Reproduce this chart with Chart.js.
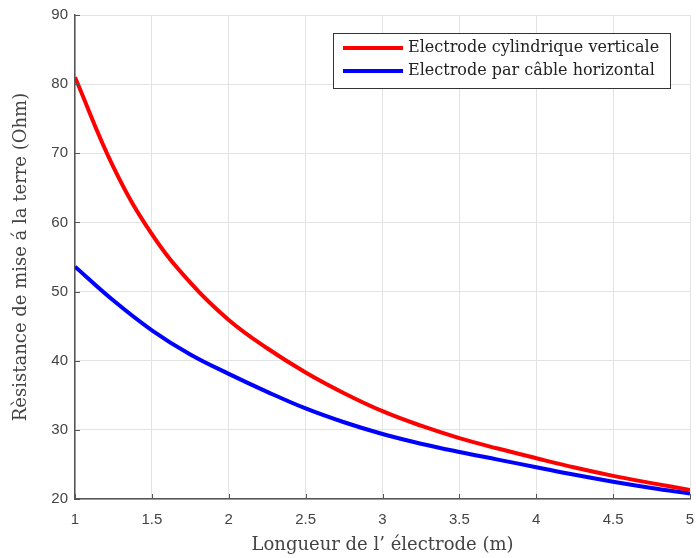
<!DOCTYPE html>
<html>
<head>
<meta charset="utf-8">
<script src="https://cdn.jsdelivr.net/npm/chart.js@4"></script>
<style>
  html, body { margin: 0; padding: 0; background: #fff; }
  #wrap { width: 696px; height: 558px; }
</style>
</head>
<body>
<div id="wrap"><canvas id="c" width="696" height="558"></canvas></div>
<script>
// longueur de l'électrode (m)
const longueurs = [1, 1.25, 1.5, 1.75, 2, 2.25, 2.5, 2.75, 3, 3.25, 3.5, 3.75, 4, 4.25, 4.5, 4.75, 5];
// résistance (Ohm)
const rVerticale = [81, 68.0, 58.3, 51.3, 45.9, 41.8, 38.3, 35.3, 32.7, 30.6, 28.8, 27.3, 25.9, 24.55, 23.35, 22.3, 21.3];
const rHorizontal = [53.6, 48.7, 44.4, 40.9, 38.1, 35.5, 33.1, 31.1, 29.4, 28.0, 26.8, 25.7, 24.6, 23.5, 22.5, 21.6, 20.8];
const xTicks = [1, 1.5, 2, 2.5, 3, 3.5, 4, 4.5, 5];
const yTicks = [20, 30, 40, 50, 60, 70, 80, 90];

const pts = arr => longueurs.map((x, i) => ({ x: x, y: arr[i] }));

const AXIS = '#555555';
const SERIF = "'DejaVu Serif', 'Liberation Serif', serif";
const SANS = "'Liberation Sans', Arial, sans-serif";

// ticks vers l'intérieur + légende dans le cadre (style matlab)
const matlabLook = {
  id: 'matlabLook',
  afterDatasetsDraw(chart) {
    const { ctx, chartArea: a, scales } = chart;
    ctx.save();
    ctx.strokeStyle = AXIS;
    ctx.lineWidth = 1;
    scales.x.ticks.forEach(t => {
      const px = Math.round(scales.x.getPixelForValue(t.value)) + 0.5;
      ctx.beginPath(); ctx.moveTo(px, a.bottom); ctx.lineTo(px, a.bottom - 5); ctx.stroke();
    });
    scales.y.ticks.forEach(t => {
      const py = Math.round(scales.y.getPixelForValue(t.value)) + 0.5;
      ctx.beginPath(); ctx.moveTo(a.left, py); ctx.lineTo(a.left + 5, py); ctx.stroke();
    });

    // legende
    const bx = 333, by = 33, bw = 337, bh = 55;
    ctx.fillStyle = '#fff';
    ctx.fillRect(bx, by, bw, bh);
    ctx.strokeStyle = '#333';
    ctx.lineWidth = 1;
    ctx.strokeRect(bx + 0.5, by + 0.5, bw, bh);
    ctx.font = '16px ' + SERIF;
    ctx.textBaseline = 'middle';
    chart.data.datasets.forEach((ds, i) => {
      const y = by + 15 + i * 23;
      ctx.strokeStyle = ds.borderColor;
      ctx.lineWidth = 4;
      ctx.beginPath(); ctx.moveTo(bx + 10, y); ctx.lineTo(bx + 70, y); ctx.stroke();
      ctx.fillStyle = '#222';
      ctx.fillText(ds.label, bx + 75, y);
    });
    ctx.restore();
  }
};

new Chart(document.getElementById('c'), {
  type: 'line',
  data: {
    datasets: [
      { label: 'Electrode cylindrique verticale', data: pts(rVerticale), borderColor: '#ff0000', borderWidth: 4, pointRadius: 0, tension: 0.4, fill: false },
      { label: 'Electrode par câble horizontal', data: pts(rHorizontal), borderColor: '#0000ff', borderWidth: 4, pointRadius: 0, tension: 0.4, fill: false }
    ]
  },
  options: {
    responsive: false,
    animation: false,
    layout: { padding: { left: 0, right: 6, top: 15, bottom: 0 } },
    plugins: { legend: { display: false }, tooltip: { enabled: false } },
    scales: {
      x: {
        type: 'linear', min: 1, max: 5,
        afterBuildTicks: s => { s.ticks = xTicks.map(v => ({ value: v })); },
        afterFit: s => { s.height = 59; s.paddingLeft = 0; s.paddingRight = 0; },
        grid: { color: '#e3e3e3', drawTicks: false },
        border: { color: AXIS, width: 1.5 },
        ticks: { padding: 12, color: '#444', font: { family: SANS, size: 15 }, callback: v => String(v) },
        title: { display: true, text: 'Longueur de l’ électrode (m)', color: '#444', padding: { top: 0, bottom: 2 }, font: { family: SERIF, size: 18 } }
      },
      y: {
        min: 20, max: 90,
        afterBuildTicks: s => { s.ticks = yTicks.map(v => ({ value: v })); },
        afterFit: s => { s.width = 75; s.paddingTop = 0; s.paddingBottom = 0; },
        grid: { color: '#e3e3e3', drawTicks: false },
        border: { color: AXIS, width: 1.5 },
        ticks: { padding: 7, color: '#444', font: { family: SANS, size: 15 }, callback: v => String(v) },
        title: { display: true, text: 'Rèsistance de mise á la terre (Ohm)', color: '#444', padding: { top: 11, bottom: 0 }, font: { family: SERIF, size: 18 } }
      }
    }
  },
  plugins: [matlabLook]
});
</script>
</body>
</html>
